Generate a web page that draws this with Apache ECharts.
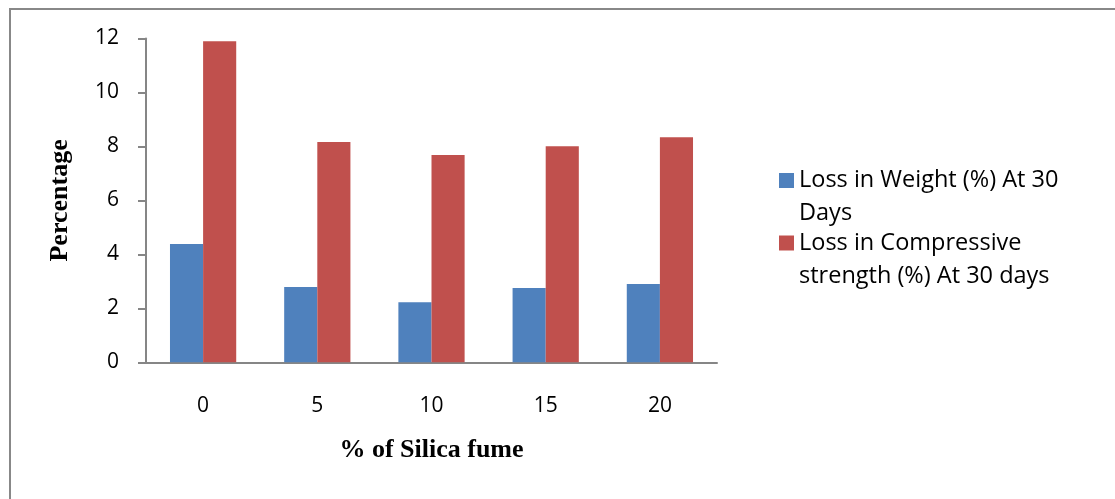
<!DOCTYPE html>
<html>
<head>
<meta charset="utf-8">
<script src="https://cdn.jsdelivr.net/npm/echarts@6/dist/echarts.min.js"></script>
<style>
  html, body { margin: 0; padding: 0; background: #fff; }
  #chart { width: 1115px; height: 499px; }
</style>
</head>
<body>
<div id="chart"></div>
<script>
var categories = ['0', '5', '10', '15', '20'];
var lossWeight = [4.38, 2.79, 2.23, 2.75, 2.9];
var lossStrength = [11.9, 8.16, 7.68, 8.01, 8.34];
var yTicks = [0, 12, 2];
var seriesNames = ['Loss in Weight (%) At 30 Days', 'Loss in Compressive strength (%) At 30 days'];
var legendLabels = ['Loss in Weight (%) At 30\nDays', 'Loss in Compressive\nstrength (%) At 30 days'];

var chart = echarts.init(document.getElementById('chart'));
chart.setOption({
    animation: false,
    backgroundColor: '#fff',
    graphic: [{
        type: 'rect',
        shape: { x: 10, y: 9, width: 1300, height: 700 },
        style: { fill: 'none', stroke: '#888', lineWidth: 2 }
    }],
    grid: { left: 146, right: 398, top: 38.5, bottom: 136.7 },
    legend: {
        orient: 'vertical',
        left: 779,
        top: 131,
        padding: 0,
        itemWidth: 15,
        itemHeight: 15,
        itemGap: -36.5,
        icon: 'rect',
        data: seriesNames,
        // blank first line so the marker sits on the first text line
        formatter: function (name) {
            return ' \n' + legendLabels[seriesNames.indexOf(name)];
        },
        textStyle: {
            fontFamily: 'Open Sans',
            fontSize: 23.5,
            lineHeight: 33,
            color: '#000'
        }
    },
    xAxis: {
        type: 'category',
        data: categories,
        name: '% of Silica fume',
        nameLocation: 'middle',
        nameGap: 75,
        nameTextStyle: { fontFamily: 'Liberation Serif', fontWeight: 'bold', fontSize: 26, color: '#000' },
        axisLine: { lineStyle: { color: '#868686', width: 2 } },
        axisTick: { length: 8, lineStyle: { color: '#868686', width: 2 } },
        axisLabel: { margin: 33, fontFamily: 'Open Sans', fontSize: 21, color: '#000' }
    },
    yAxis: {
        type: 'value',
        min: yTicks[0],
        max: yTicks[1],
        interval: yTicks[2],
        name: 'Percentage',
        nameLocation: 'middle',
        nameGap: 73,
        nameTextStyle: { fontFamily: 'Liberation Serif', fontWeight: 'bold', fontSize: 26, color: '#000' },
        splitLine: { show: false },
        axisLine: { show: true, lineStyle: { color: '#868686', width: 2 } },
        axisTick: { show: true, length: 8, lineStyle: { color: '#868686', width: 2 } },
        axisLabel: { margin: 27, fontFamily: 'Open Sans', fontSize: 21, color: '#000' }
    },
    series: [
        {
            name: seriesNames[0],
            type: 'bar',
            data: lossWeight,
            barGap: '0%',
            barCategoryGap: '42%',
            itemStyle: { color: '#4F81BD' }
        },
        {
            name: seriesNames[1],
            type: 'bar',
            data: lossStrength,
            itemStyle: { color: '#C0504D' }
        }
    ]
});
</script>
</body>
</html>
